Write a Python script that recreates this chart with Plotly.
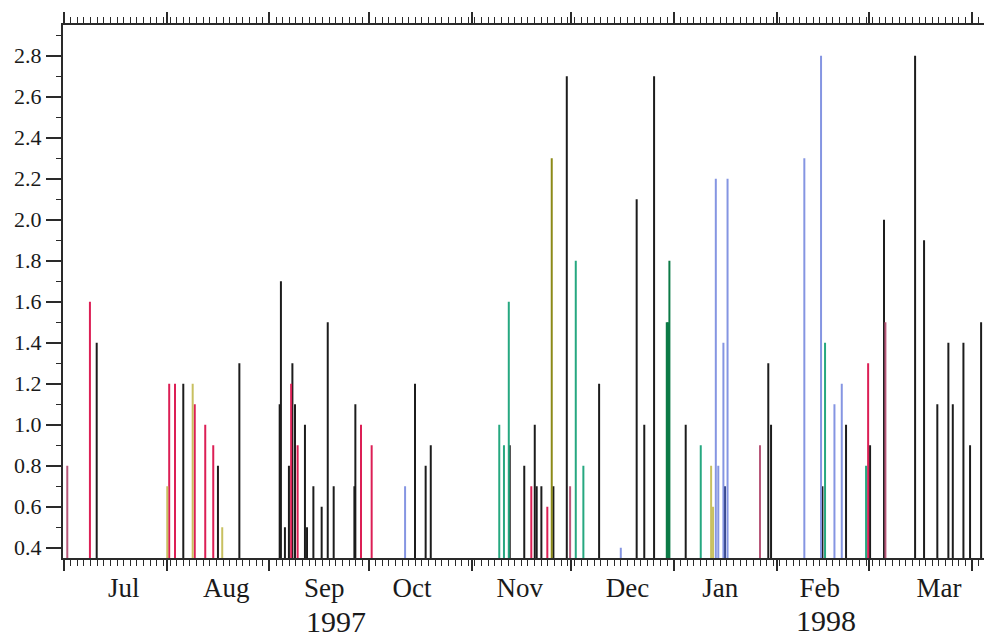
import plotly.graph_objects as go

BASE = 0.35

# ---- data: (date, value) per colour group ----
black_dates = ["1997-07-10 21:00", "1997-08-06 00:00", "1997-08-16 11:00", "1997-08-22 22:00",
               "1997-09-04 02:00", "1997-09-04 11:00", "1997-09-05 16:00", "1997-09-06 21:00",
               "1997-09-07 22:00", "1997-09-08 17:00", "1997-09-11 17:00", "1997-09-12 08:00",
               "1997-09-14 06:00", "1997-09-16 18:00", "1997-09-18 14:00", "1997-09-20 09:00",
               "1997-09-26 15:00", "1997-09-26 22:00", "1997-10-14 22:00", "1997-10-18 03:00",
               "1997-10-19 16:00", "1997-11-12 12:00", "1997-11-16 21:00", "1997-11-20 01:00",
               "1997-11-20 15:00", "1997-11-22 01:00", "1997-11-25 16:00", "1997-11-29 17:00",
               "1997-12-09 11:00", "1997-12-20 19:00", "1997-12-23 02:00", "1997-12-26 01:00",
               "1998-01-04 14:00", "1998-01-29 12:00", "1998-01-30 08:00", "1998-02-14 20:00",
               "1998-02-21 23:00", "1998-03-01 05:00", "1998-03-05 10:00", "1998-03-14 19:00",
               "1998-03-17 12:00", "1998-03-21 12:00", "1998-03-24 20:00", "1998-03-26 04:00",
               "1998-03-29 09:00", "1998-03-31 09:00", "1998-04-03 17:00"]
black_values = [1.4, 1.2, 0.8, 1.3,
                1.1, 1.7, 0.5, 0.8,
                1.3, 1.1, 1.0, 0.5,
                0.7, 0.6, 1.5, 0.7,
                0.7, 1.1, 1.2, 0.8,
                0.9, 0.9, 0.8, 1.0,
                0.7, 0.7, 0.7, 2.7,
                1.2, 2.1, 1.0, 2.7,
                1.0, 1.3, 1.0, 0.7,
                1.0, 0.9, 2.0, 2.8,
                1.9, 1.1, 1.4, 1.1,
                1.4, 0.9, 1.5]

red_dates = ["1997-07-08 20:00", "1997-08-01 18:00", "1997-08-03 12:00", "1997-08-09 11:00",
             "1997-08-12 15:00", "1997-08-15 01:00", "1997-09-07 13:00", "1997-09-09 12:00",
             "1997-09-28 15:00", "1997-10-01 20:00", "1997-11-19 00:00", "1997-11-23 20:00",
             "1998-02-28 15:00"]
red_values = [1.6, 1.2, 1.2, 1.1,
              1.0, 0.9, 1.2, 0.9,
              1.0, 0.9, 0.7, 0.6,
              1.3]

mauve_dates = ["1997-07-02 00:00", "1997-11-30 17:00", "1998-01-27 00:00", "1998-03-05 20:00"]
mauve_values = [0.8, 0.7, 0.9, 1.5]

yellow_dates = ["1997-08-01 04:00", "1997-08-08 20:00", "1997-08-17 18:00",
                "1998-01-12 06:00", "1998-01-12 20:00"]
yellow_values = [0.7, 1.2, 0.5, 0.8, 0.6]

olive_dates = ["1997-11-25 04:00"]
olive_values = [2.3]

green_dates = ["1997-11-09 08:00", "1997-11-10 18:00", "1997-11-12 05:00", "1997-12-02 10:00",
               "1997-12-04 17:00", "1998-01-09 03:00", "1998-02-15 15:00", "1998-02-28 00:00"]
green_values = [1.0, 0.9, 1.6, 1.8, 0.8, 0.9, 1.4, 0.8]

darkgreen_dates = ["1997-12-29 21:00", "1997-12-30 06:00", "1997-12-30 16:00"]
darkgreen_values = [1.5, 1.5, 1.8]

blue_dates = ["1997-10-11 22:00", "1997-12-16 00:00", "1998-01-13 16:00", "1998-01-14 10:00",
              "1998-01-15 23:00", "1998-01-17 05:00", "1998-02-09 09:00", "1998-02-14 10:00",
              "1998-02-18 11:00", "1998-02-20 16:00"]
blue_values = [0.7, 0.4, 2.2, 0.8, 1.4, 2.2, 2.3, 2.8, 1.1, 1.2]

navy_dates = ["1998-01-16 11:00"]
navy_values = [0.7]

month_labels = ["Jul", "Aug", "Sep", "Oct", "Nov", "Dec", "Jan", "Feb", "Mar"]
month_label_dates = ["1997-07-19", "1997-08-19", "1997-09-17 12:00", "1997-10-14",
                     "1997-11-15 12:00", "1997-12-18", "1998-01-15", "1998-02-14",
                     "1998-03-22"]
year_labels = ["1997", "1998"]
year_label_dates = ["1997-09-21", "1998-02-16"]

groups = [
    (black_dates, black_values, "#1c1c1c", 2.0),
    (red_dates, red_values, "#dc1f55", 2.0),
    (mauve_dates, mauve_values, "#b8587a", 2.0),
    (yellow_dates, yellow_values, "#c8c060", 2.0),
    (olive_dates, olive_values, "#8c8a18", 2.0),
    (green_dates, green_values, "#26a880", 2.0),
    (darkgreen_dates, darkgreen_values, "#0c7a46", 2.0),
    (blue_dates, blue_values, "#8595e2", 2.0),
    (navy_dates, navy_values, "#3a4a90", 2.0),
]

fig = go.Figure()
for dates, vals, col, w in groups:
    xs, ys = [], []
    for d, v in zip(dates, vals):
        xs += [d, d, None]
        ys += [BASE, v, None]
    fig.add_trace(go.Scatter(x=xs, y=ys, mode="lines", line=dict(color=col, width=w),
                             showlegend=False, hoverinfo="skip", xaxis="x", yaxis="y"))

# invisible trace for label axis
fig.add_trace(go.Scatter(x=month_label_dates, y=[None] * len(month_label_dates),
                         mode="markers", showlegend=False, xaxis="x2", yaxis="y",
                         hoverinfo="skip"))

XR = ["1997-06-30 17:00", "1998-04-04 14:00"]
axcol = "#2a2a2a"
fam = "Liberation Serif, Times New Roman, serif"
yfont = dict(family=fam, size=22, color="#1a1a1a")
mfont = dict(family=fam, size=27, color="#1a1a1a")

fig.update_layout(
    width=985, height=640,
    margin=dict(l=63, r=1, t=25, b=82, autoexpand=False),
    paper_bgcolor="white", plot_bgcolor="white",
    font=yfont,
    xaxis=dict(type="date", range=XR, tickmode="linear", tick0="1997-07-01", dtick="M1",
               showticklabels=False, ticks="outside", ticklen=11, tickwidth=1.5, tickcolor=axcol,
               showline=True, linecolor=axcol, linewidth=1.5, mirror="ticks",
               showgrid=False, zeroline=False, automargin=False,
               minor=dict(ticks="outside", ticklen=6, tickwidth=1.2, tickcolor=axcol,
                          tick0="1997-07-01", dtick=2 * 86400000, showgrid=False)),
    xaxis2=dict(type="date", range=XR, overlaying="x", anchor="y", side="bottom",
                tickmode="array", tickvals=month_label_dates, ticktext=month_labels,
                ticks="outside", ticklen=6, tickcolor="rgba(0,0,0,0)",
                showline=False, showgrid=False, zeroline=False, tickfont=mfont,
                automargin=False),
    yaxis=dict(range=[BASE, 2.95], tickmode="linear", tick0=0.4, dtick=0.2, tickformat=".1f",
               ticks="outside", ticklen=15, tickwidth=1.5, tickcolor=axcol,
               showline=True, linecolor=axcol, linewidth=2, showgrid=False, zeroline=False,
               minor=dict(ticks="outside", ticklen=5, tickwidth=1.2, tickcolor=axcol,
                          dtick=0.1, tick0=0.3, showgrid=False),
               tickfont=yfont, automargin=False),
)

for lab, d, yoff in zip(year_labels, year_label_dates, [63, 62]):
    fig.add_annotation(x=d, xref="x", y=0, yref="paper", yshift=-yoff, yanchor="middle",
                       text=lab, showarrow=False,
                       font=dict(family=fam, size=30, color="#1a1a1a"))

# remove the default 8px page margin so the 985x640 figure fills the window exactly
fig.write_html("out.html", config={"displayModeBar": False},
               post_script="document.body.style.margin='0';document.body.style.overflow='hidden';")
